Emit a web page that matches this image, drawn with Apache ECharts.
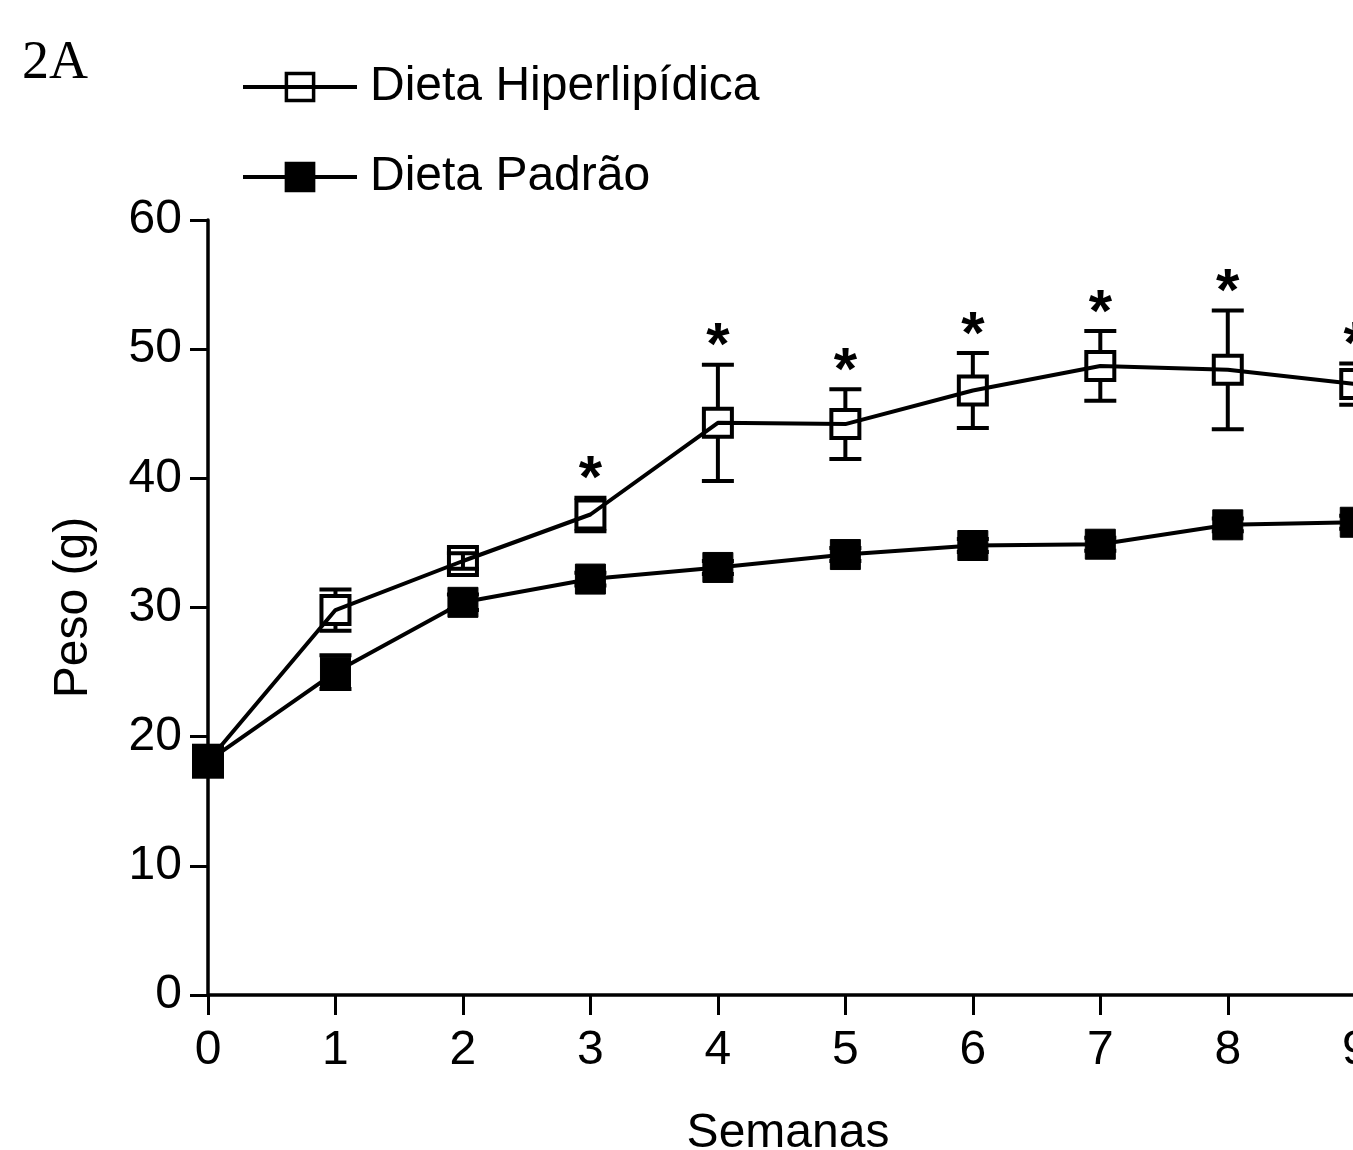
<!DOCTYPE html>
<html>
<head>
<meta charset="utf-8">
<script src="https://cdn.jsdelivr.net/npm/echarts@6/dist/echarts.min.js"></script>
<style>
  html, body { margin: 0; padding: 0; overflow: hidden; background: #fff; }
  #main { width: 1400px; height: 1150px; }
</style>
</head>
<body>
<div id="main"></div>
<script>
// semanas 0..9 (o resto do eixo fica cortado na imagem)
var weeks = [0, 1, 2, 3, 4, 5, 6, 7, 8, 9];
var hiperMean = [18.1, 29.8, 33.6, 37.2, 44.3, 44.2, 46.8, 48.7, 48.4, 47.3];
var hiperSd = [0.8, 1.6, 0.6, 1.3, 4.5, 2.7, 2.9, 2.7, 4.6, 1.6];
var padraoMean = [18.1, 25.0, 30.4, 32.2, 33.1, 34.1, 34.8, 34.9, 36.4, 36.6];
var padraoSd = [1.2, 1.3, 0.6, 0.5, 0.5, 0.5, 0.5, 0.5, 0.5, 0.5];
var signif = [0, 0, 0, 1, 1, 1, 1, 1, 1, 1];

var FONT = "'Liberation Sans', Arial, sans-serif";
var HALF = 15;

var pairs = function(xs, ys) {
  return xs.map(function(x, i) { return [x, ys[i]]; });
};
var errData = function(means, sds) {
  return weeks.map(function(w, i) { return [w, means[i], sds[i], signif[i]]; });
};

var makeErrRender = function(showStar) {
  return function(params, api) {
    var x = api.value(0), m = api.value(1), sd = api.value(2), sig = api.value(3);
    var c = api.coord([x, m]);
    var t = api.coord([x, m + sd]);
    var b = api.coord([x, m - sd]);
    var st = { stroke: "#000", lineWidth: 4 };
    var upEnd = t[1] < c[1] - HALF ? c[1] - HALF : c[1];
    var dnEnd = b[1] > c[1] + HALF ? c[1] + HALF : c[1];
    var children = [
      { type: "line", shape: { x1: c[0], y1: t[1], x2: c[0], y2: upEnd }, style: st },
      { type: "line", shape: { x1: c[0], y1: b[1], x2: c[0], y2: dnEnd }, style: st },
      { type: "line", shape: { x1: c[0] - 16, y1: t[1], x2: c[0] + 16, y2: t[1] }, style: st },
      { type: "line", shape: { x1: c[0] - 16, y1: b[1], x2: c[0] + 16, y2: b[1] }, style: st }
    ];
    if (showStar && sig) {
      var topY = Math.min(t[1], c[1] - HALF);
      children.push({
        type: "text",
        style: {
          text: "*", x: c[0], y: topY - 17, align: "center", verticalAlign: "middle",
          font: "bold 60px " + FONT, fill: "#000"
        }
      });
    }
    return { type: "group", children: children };
  };
};

var myChart = echarts.init(document.getElementById("main"));
var option = {
  animation: false,
  textStyle: { fontFamily: FONT, color: "#000" },
  graphic: [
    {
      type: "text", left: 22, top: 37,
      style: { text: "2A", font: "54px 'Liberation Serif', 'Times New Roman', serif", fill: "#000" }
    }
  ],
  legend: {
    orient: "vertical",
    left: 241,
    top: 63,
    padding: 0,
    itemWidth: 114,
    itemHeight: 34,
    itemGap: 42,
    lineStyle: { width: 4, color: "#000" },
    itemStyle: { borderWidth: 3.5, borderColor: "#000" },
    textStyle: { fontSize: 48, color: "#000", fontFamily: FONT, padding: [0, 0, 0, 8] },
    data: ["Dieta Hiperlipídica", "Dieta Padrão"]
  },
  grid: { left: 208, top: 220, width: 1160, height: 775, outerBoundsMode: "none", containLabel: false },
  xAxis: {
    type: "value",
    min: 0,
    max: 9.1,
    interval: 1,
    name: "Semanas",
    nameLocation: "middle",
    nameGap: 115,
    nameTextStyle: { fontSize: 48, color: "#000" },
    splitLine: { show: false },
    axisLine: { lineStyle: { color: "#000", width: 3.5 } },
    axisTick: { length: 20, lineStyle: { color: "#000", width: 3 } },
    axisLabel: {
      fontSize: 48, color: "#000", margin: 32,
      formatter: function(v) { return Number.isInteger(v) ? String(v) : ""; }
    }
  },
  yAxis: {
    type: "value",
    min: 0,
    max: 60,
    interval: 10,
    name: "Peso (g)",
    nameLocation: "middle",
    nameRotate: 90,
    nameGap: 110,
    nameTextStyle: { fontSize: 48, color: "#000" },
    splitLine: { show: false },
    axisLine: { show: true, lineStyle: { color: "#000", width: 3.5 } },
    axisTick: { show: true, length: 18, lineStyle: { color: "#000", width: 3 } },
    axisLabel: { fontSize: 48, color: "#000", margin: 26 }
  },
  series: [
    {
      type: "custom",
      name: "errHiper",
      renderItem: makeErrRender(true),
      data: errData(hiperMean, hiperSd),
      z: 2,
      clip: false,
      silent: true
    },
    {
      type: "line",
      name: "Dieta Hiperlipídica",
      data: pairs(weeks, hiperMean),
      symbol: "rect",
      symbolSize: 28,
      clip: false,
      lineStyle: { color: "#000", width: 4 },
      itemStyle: { color: "rgba(255,255,255,0)", borderColor: "#000", borderWidth: 4 },
      z: 3
    },
    {
      type: "custom",
      name: "errPadrao",
      renderItem: makeErrRender(false),
      data: errData(padraoMean, padraoSd),
      z: 4,
      clip: false,
      silent: true
    },
    {
      type: "line",
      name: "Dieta Padrão",
      data: pairs(weeks, padraoMean),
      symbol: "rect",
      symbolSize: 30,
      clip: false,
      lineStyle: { color: "#000", width: 4 },
      itemStyle: { color: "#000", borderColor: "#000", borderWidth: 1 },
      z: 5
    }
  ]
};
myChart.setOption(option);
</script>
</body>
</html>
